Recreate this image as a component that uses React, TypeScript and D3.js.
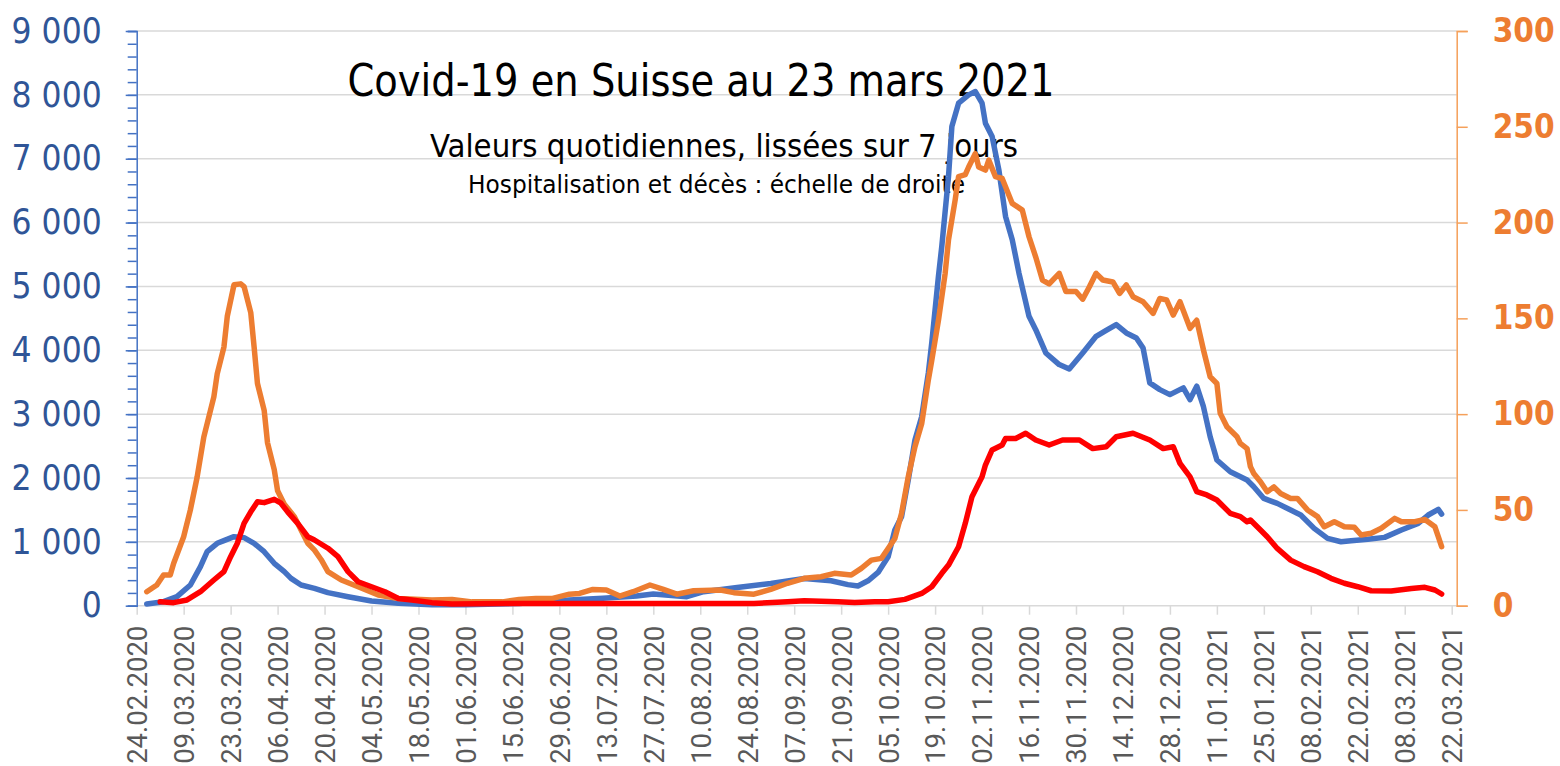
import React, { useEffect, useRef } from "react";
import * as d3 from "d3";

// x axis labels, one every 14 days
const tickLabels = [
  "24.02.2020", "09.03.2020", "23.03.2020", "06.04.2020", "20.04.2020", "04.05.2020",
  "18.05.2020", "01.06.2020", "15.06.2020", "29.06.2020", "13.07.2020", "27.07.2020",
  "10.08.2020", "24.08.2020", "07.09.2020", "21.09.2020", "05.10.2020", "19.10.2020",
  "02.11.2020", "16.11.2020", "30.11.2020", "14.12.2020", "28.12.2020", "11.01.2021",
  "25.01.2021", "08.02.2021", "22.02.2021", "08.03.2021", "22.03.2021",
];

const leftTicks = [0, 1000, 2000, 3000, 4000, 5000, 6000, 7000, 8000, 9000];
const rightTicks = [0, 50, 100, 150, 200, 250, 300];

// new cases per day (left scale)
const cases: [string, number][] = [
  ["2020-02-27", 26], ["2020-03-03", 63], ["2020-03-07", 141], ["2020-03-11", 324], ["2020-03-14", 611],
  ["2020-03-16", 846], ["2020-03-19", 977], ["2020-03-21", 1019], ["2020-03-24", 1081], ["2020-03-27", 1066],
  ["2020-03-30", 977], ["2020-04-02", 846], ["2020-04-05", 664], ["2020-04-08", 533], ["2020-04-10", 428],
  ["2020-04-13", 324], ["2020-04-17", 272], ["2020-04-21", 204], ["2020-04-27", 141], ["2020-05-04", 73],
  ["2020-05-12", 37], ["2020-05-22", 16], ["2020-06-01", 15], ["2020-06-17", 36], ["2020-07-02", 89],
  ["2020-07-12", 115], ["2020-07-22", 151], ["2020-07-27", 182], ["2020-08-06", 141], ["2020-08-11", 219],
  ["2020-08-21", 286], ["2020-08-31", 349], ["2020-09-10", 427], ["2020-09-18", 390], ["2020-09-23", 330],
  ["2020-09-26", 308], ["2020-09-29", 390], ["2020-10-02", 520], ["2020-10-05", 767], ["2020-10-07", 1185],
  ["2020-10-09", 1393], ["2020-10-11", 1968], ["2020-10-13", 2594], ["2020-10-15", 2959], ["2020-10-17", 3650],
  ["2020-10-18", 4115], ["2020-10-20", 5158], ["2020-10-21", 5628], ["2020-10-23", 6722], ["2020-10-24", 7504],
  ["2020-10-26", 7870], ["2020-10-29", 8000], ["2020-10-31", 8052], ["2020-11-02", 7870], ["2020-11-03", 7557],
  ["2020-11-05", 7348], ["2020-11-07", 6827], ["2020-11-09", 6096], ["2020-11-11", 5731], ["2020-11-13", 5210],
  ["2020-11-16", 4532], ["2020-11-18", 4323], ["2020-11-21", 3958], ["2020-11-25", 3776], ["2020-11-28", 3707],
  ["2020-12-02", 3958], ["2020-12-06", 4219], ["2020-12-09", 4312], ["2020-12-12", 4401], ["2020-12-15", 4271],
  ["2020-12-18", 4193], ["2020-12-20", 4036], ["2020-12-22", 3489], ["2020-12-25", 3384], ["2020-12-28", 3306],
  ["2021-01-01", 3411], ["2021-01-03", 3228], ["2021-01-05", 3437], ["2021-01-07", 3116], ["2021-01-09", 2646],
  ["2021-01-11", 2281], ["2021-01-15", 2098], ["2021-01-20", 1968], ["2021-01-22", 1863], ["2021-01-25", 1680],
  ["2021-01-29", 1602], ["2021-02-02", 1498], ["2021-02-05", 1420], ["2021-02-09", 1211], ["2021-02-13", 1054],
  ["2021-02-17", 1002], ["2021-02-20", 1018], ["2021-02-25", 1039], ["2021-03-02", 1070], ["2021-03-07", 1185],
  ["2021-03-12", 1289], ["2021-03-15", 1420], ["2021-03-18", 1508], ["2021-03-19", 1435],
];

// hospitalisations per day (right scale)
const hospitalisations: [string, number][] = [
  ["2020-02-27", 7.3], ["2020-03-01", 10.8], ["2020-03-03", 16], ["2020-03-05", 16], ["2020-03-06", 22],
  ["2020-03-09", 36], ["2020-03-11", 50], ["2020-03-13", 67], ["2020-03-15", 88], ["2020-03-18", 109],
  ["2020-03-19", 121], ["2020-03-21", 135], ["2020-03-22", 151], ["2020-03-24", 167.5], ["2020-03-26", 168],
  ["2020-03-27", 166.6], ["2020-03-29", 153], ["2020-03-30", 135], ["2020-03-31", 116], ["2020-04-02", 102],
  ["2020-04-03", 85], ["2020-04-05", 71], ["2020-04-06", 60], ["2020-04-08", 53], ["2020-04-11", 46.5],
  ["2020-04-13", 39.5], ["2020-04-15", 32.6], ["2020-04-17", 29], ["2020-04-19", 24], ["2020-04-21", 17.8],
  ["2020-04-25", 13.4], ["2020-04-30", 9.9], ["2020-05-06", 5.6], ["2020-05-12", 3.8], ["2020-05-22", 3],
  ["2020-05-28", 3.3], ["2020-06-03", 2], ["2020-06-12", 2], ["2020-06-17", 3.3], ["2020-06-22", 3.8],
  ["2020-06-27", 3.8], ["2020-07-02", 6], ["2020-07-05", 6.4], ["2020-07-09", 8.5], ["2020-07-13", 8.2],
  ["2020-07-17", 5], ["2020-07-21", 7.3], ["2020-07-26", 10.8], ["2020-07-30", 8.5], ["2020-08-03", 6],
  ["2020-08-08", 7.8], ["2020-08-16", 8.2], ["2020-08-20", 6.8], ["2020-08-26", 6], ["2020-08-31", 8.5],
  ["2020-09-05", 11.7], ["2020-09-10", 14.3], ["2020-09-15", 15.1], ["2020-09-19", 16.9], ["2020-09-24", 16],
  ["2020-09-27", 19.5], ["2020-09-30", 23.8], ["2020-10-03", 24.7], ["2020-10-05", 29.9], ["2020-10-07", 35.1],
  ["2020-10-09", 48.2], ["2020-10-11", 67.3], ["2020-10-13", 83], ["2020-10-15", 95], ["2020-10-17", 118],
  ["2020-10-18", 128], ["2020-10-20", 149], ["2020-10-22", 173.5], ["2020-10-23", 191], ["2020-10-25", 212],
  ["2020-10-26", 224], ["2020-10-28", 225], ["2020-10-29", 229], ["2020-10-31", 236], ["2020-11-01", 229],
  ["2020-11-03", 227.4], ["2020-11-04", 232.6], ["2020-11-06", 224], ["2020-11-08", 223], ["2020-11-11", 210],
  ["2020-11-14", 206.5], ["2020-11-16", 192.6], ["2020-11-18", 182], ["2020-11-20", 170], ["2020-11-22", 168],
  ["2020-11-25", 173.5], ["2020-11-27", 164], ["2020-11-30", 164], ["2020-12-02", 160], ["2020-12-04", 166.5],
  ["2020-12-06", 173.5], ["2020-12-08", 170], ["2020-12-11", 169], ["2020-12-13", 163], ["2020-12-15", 167.4],
  ["2020-12-17", 161.3], ["2020-12-20", 158.7], ["2020-12-23", 152.6], ["2020-12-25", 160.4], ["2020-12-27", 159.6],
  ["2020-12-29", 151.7], ["2020-12-31", 158.7], ["2021-01-03", 144.8], ["2021-01-05", 149], ["2021-01-07", 133.5],
  ["2021-01-09", 119.5], ["2021-01-11", 116], ["2021-01-12", 100.4], ["2021-01-14", 93.4], ["2021-01-17", 88.2],
  ["2021-01-18", 84.7], ["2021-01-20", 82], ["2021-01-21", 72.6], ["2021-01-22", 69], ["2021-01-24", 64.7],
  ["2021-01-26", 59.5], ["2021-01-28", 62], ["2021-01-30", 58.6], ["2021-02-02", 56], ["2021-02-04", 56],
  ["2021-02-07", 50], ["2021-02-10", 46.5], ["2021-02-12", 41.2], ["2021-02-15", 43.8], ["2021-02-18", 41.2],
  ["2021-02-21", 40.9], ["2021-02-23", 36.9], ["2021-02-26", 37.8], ["2021-03-01", 40.4], ["2021-03-05", 45.6],
  ["2021-03-07", 43.8], ["2021-03-11", 43.8], ["2021-03-14", 45], ["2021-03-17", 41.2], ["2021-03-18", 36],
  ["2021-03-19", 30.8],
];

// deaths per day (right scale)
const deaths: [string, number][] = [
  ["2020-03-02", 2], ["2020-03-06", 1.6], ["2020-03-10", 3], ["2020-03-14", 7.3], ["2020-03-18", 13.4],
  ["2020-03-21", 17.8], ["2020-03-23", 25.6], ["2020-03-25", 32.6], ["2020-03-27", 43], ["2020-03-29", 49],
  ["2020-03-31", 54.3], ["2020-04-02", 53.8], ["2020-04-05", 55.5], ["2020-04-07", 53.5], ["2020-04-09", 49],
  ["2020-04-12", 43], ["2020-04-15", 36], ["2020-04-17", 34.3], ["2020-04-21", 30], ["2020-04-24", 25.6],
  ["2020-04-27", 17.8], ["2020-04-30", 12.5], ["2020-05-04", 9.9], ["2020-05-08", 7.3], ["2020-05-12", 3.8],
  ["2020-05-16", 3], ["2020-05-22", 1.6], ["2020-05-28", 0.9], ["2020-06-13", 1.2], ["2020-07-03", 1.2],
  ["2020-07-23", 1.2], ["2020-08-12", 1.2], ["2020-08-26", 1.2], ["2020-09-05", 2.1], ["2020-09-10", 2.6],
  ["2020-09-20", 2.1], ["2020-09-25", 1.7], ["2020-10-01", 2.1], ["2020-10-05", 2.1], ["2020-10-10", 3.3],
  ["2020-10-15", 6.4], ["2020-10-18", 9.9], ["2020-10-21", 16.9], ["2020-10-23", 21.2], ["2020-10-26", 30.8],
  ["2020-10-28", 43], ["2020-10-30", 56.9], ["2020-11-02", 67.3], ["2020-11-03", 73.4], ["2020-11-05", 81.3],
  ["2020-11-08", 83.9], ["2020-11-09", 87.3], ["2020-11-12", 87.3], ["2020-11-15", 90], ["2020-11-18", 86.5],
  ["2020-11-22", 83.9], ["2020-11-26", 86.5], ["2020-12-01", 86.5], ["2020-12-05", 82], ["2020-12-09", 83],
  ["2020-12-12", 88.2], ["2020-12-17", 90], ["2020-12-22", 86.5], ["2020-12-26", 82], ["2020-12-29", 83],
  ["2020-12-31", 74.3], ["2021-01-03", 67.3], ["2021-01-05", 59.5], ["2021-01-08", 57.8], ["2021-01-11", 55.2],
  ["2021-01-15", 48.2], ["2021-01-18", 46.5], ["2021-01-20", 43.8], ["2021-01-21", 44.7], ["2021-01-24", 39.5],
  ["2021-01-26", 36], ["2021-01-29", 29.9], ["2021-02-02", 23.8], ["2021-02-06", 20.4], ["2021-02-10", 17.7],
  ["2021-02-14", 14.3], ["2021-02-18", 11.7], ["2021-02-22", 9.9], ["2021-02-26", 7.8], ["2021-03-04", 7.7],
  ["2021-03-10", 9], ["2021-03-14", 9.6], ["2021-03-17", 8.2], ["2021-03-19", 6.1],
];

const title = "Covid-19 en Suisse au 23 mars 2021";
const subtitle = "Valeurs quotidiennes, lissées sur 7 jours";
const note = "Hospitalisation et décès : échelle de droite";

const FONT = "'DejaVu Sans Condensed', 'DejaVu Sans', sans-serif";

export default function App() {
  const svgRef = useRef<SVGSVGElement>(null);
  const width = 1560;
  const height = 766;
  const left = 136.7;
  const right = 1456.7;
  const top = 31;
  const bottom = 605.7;

  useEffect(() => {
    const svg = d3.select(svgRef.current);
    svg.selectAll("*").remove();

    const parseTick = d3.utcParse("%d.%m.%Y");
    const parseDay = d3.utcParse("%Y-%m-%d");
    const fmtTick = d3.utcFormat("%d.%m.%Y");
    const tickDates = tickLabels.map((s) => parseTick(s) as Date);

    const x = d3
      .scaleUtc()
      .domain([tickDates[0], tickDates[tickDates.length - 1]])
      .range([left, 1451.7]);
    const yLeft = d3.scaleLinear().domain([0, 9000]).range([bottom, top]);
    const yRight = d3.scaleLinear().domain([0, 300]).range([bottom, top]);

    const fmtNum = d3
      .formatLocale({ decimal: ",", thousands: " ", grouping: [3], currency: ["", ""] })
      .format(",d");

    // gridlines
    svg
      .append("g")
      .selectAll("line")
      .data(leftTicks)
      .enter()
      .append("line")
      .attr("x1", left)
      .attr("x2", right)
      .attr("y1", (d) => yLeft(d))
      .attr("y2", (d) => yLeft(d))
      .attr("stroke", "#d9d9d9")
      .attr("stroke-width", 1.5);

    // x axis
    const xAxis = svg
      .append("g")
      .attr("transform", `translate(0,${bottom})`)
      .call(
        d3
          .axisBottom(x)
          .tickValues(tickDates)
          .tickSize(9)
          .tickFormat((d) => fmtTick(d as Date))
      );
    xAxis.select(".domain").remove();
    xAxis.selectAll(".tick line").attr("stroke", "#d9d9d9").attr("stroke-width", 1.5);
    xAxis
      .selectAll(".tick text")
      .attr("transform", "rotate(-90)")
      .attr("x", -20)
      .attr("y", 0)
      .attr("dy", "0.36em")
      .attr("text-anchor", "end")
      .attr("fill", "#595959")
      .style("font-family", "Roboto, sans-serif")
      .style("font-size", "27.5px");

    // left axis, minor ticks then major ticks
    const minor = svg
      .append("g")
      .attr("transform", `translate(${left},0)`)
      .call(d3.axisLeft(yLeft).tickValues(d3.range(0, 9001, 200)).tickSize(9).tickFormat(() => ""));
    minor.selectAll("line").attr("stroke", "#4472c4").attr("stroke-width", 1.5);
    minor.select(".domain").attr("stroke", "#4472c4").attr("stroke-width", 1.5);

    const yAxisL = svg
      .append("g")
      .attr("transform", `translate(${left},0)`)
      .call(
        d3
          .axisLeft(yLeft)
          .tickValues(leftTicks)
          .tickSize(11)
          .tickPadding(24)
          .tickFormat((d) => fmtNum(d as number))
      );
    yAxisL.select(".domain").remove();
    yAxisL.selectAll(".tick line").attr("stroke", "#4472c4").attr("stroke-width", 1.5);
    yAxisL
      .selectAll(".tick text")
      .attr("fill", "#2f5597")
      .style("font-family", FONT)
      .style("font-stretch", "condensed")
      .style("font-size", "35px");

    // right axis
    const yAxisR = svg
      .append("g")
      .attr("transform", `translate(${right},0)`)
      .call(d3.axisRight(yRight).tickValues(rightTicks).tickSize(11).tickPadding(25));
    yAxisR.select(".domain").attr("stroke", "#f5a05a").attr("stroke-width", 1.5);
    yAxisR.selectAll(".tick line").attr("stroke", "#f5a05a").attr("stroke-width", 1.5);
    yAxisR
      .selectAll(".tick text")
      .attr("fill", "#ed7d31")
      .style("font-family", FONT)
      .style("font-stretch", "condensed")
      .style("font-weight", "bold")
      .style("font-size", "33px");

    // titles
    const texts = [
      { t: title, cx: 701, y: 96, size: 45, len: 707 },
      { t: subtitle, cx: 724, y: 157, size: 32, len: 588 },
      { t: note, cx: 716.5, y: 193, size: 24, len: 497 },
    ];
    texts.forEach((o) => {
      svg
        .append("text")
        .attr("x", o.cx)
        .attr("y", o.y)
        .attr("text-anchor", "middle")
        .attr("textLength", o.len)
        .attr("lengthAdjust", "spacingAndGlyphs")
        .attr("fill", "#000")
        .style("font-family", FONT)
        .style("font-stretch", "condensed")
        .style("font-size", `${o.size}px`)
        .text(o.t);
    });

    // series
    const lineLeft = d3
      .line<[string, number]>()
      .x((d) => x(parseDay(d[0]) as Date))
      .y((d) => yLeft(d[1]));
    const lineRight = d3
      .line<[string, number]>()
      .x((d) => x(parseDay(d[0]) as Date))
      .y((d) => yRight(d[1]));

    const series: { data: [string, number][]; color: string; gen: typeof lineLeft }[] = [
      { data: cases, color: "#4472c4", gen: lineLeft },
      { data: hospitalisations, color: "#ed7d31", gen: lineRight },
      { data: deaths, color: "#ff0000", gen: lineRight },
    ];
    series.forEach((s) => {
      svg
        .append("path")
        .datum(s.data)
        .attr("d", s.gen)
        .attr("fill", "none")
        .attr("stroke", s.color)
        .attr("stroke-width", 5.5)
        .attr("stroke-linejoin", "round")
        .attr("stroke-linecap", "round");
    });
  }, []);

  return (
    <svg
      ref={svgRef}
      width={width}
      height={height}
      style={{ position: "absolute", left: 0, top: 0, background: "#fff" }}
    />
  );
}
